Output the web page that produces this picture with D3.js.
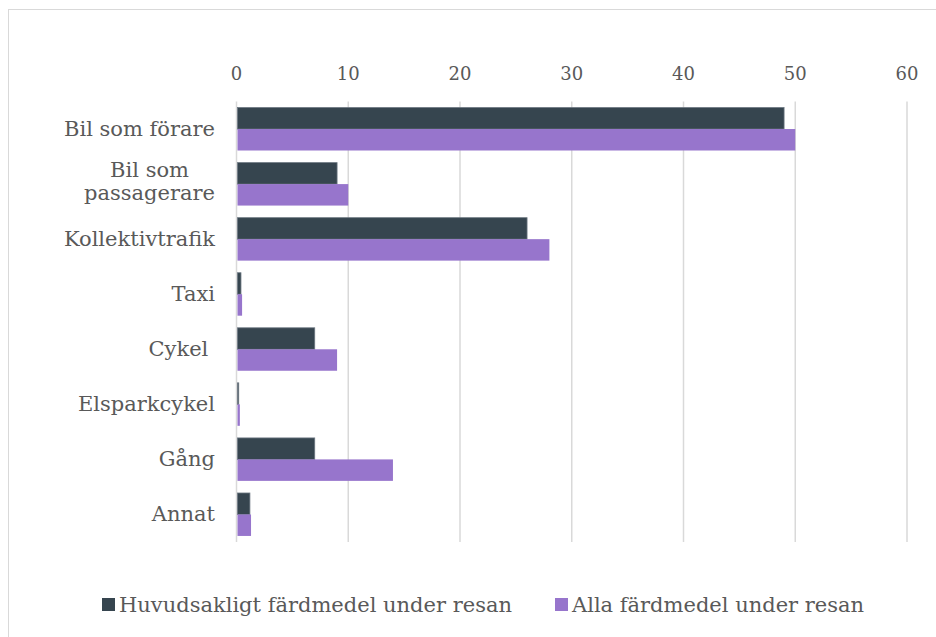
<!DOCTYPE html>
<html>
<head>
<meta charset="utf-8">
<script src="https://cdn.jsdelivr.net/npm/d3@7"></script>
<style>
  body { margin: 0; background: #fff; }
  text { font-family: Georgia, "DejaVu Serif", serif; fill: #595959; }
</style>
</head>
<body>
<div id="chart"></div>
<script>
const categories = [
  ["Bil som förare"],
  ["Bil som", "passagerare"],
  ["Kollektivtrafik"],
  ["Taxi"],
  ["Cykel "],
  ["Elsparkcykel"],
  ["Gång"],
  ["Annat"]
];
const seriesNames = ["Huvudsakligt färdmedel under resan", "Alla färdmedel under resan"];
const mainValues = [49, 9, 26, 0.4, 7, 0.2, 7, 1.2];
const allValues = [50, 10, 28, 0.5, 9, 0.3, 14, 1.3];
const ticks = [0, 10, 20, 30, 40, 50, 60];
const colors = ["#36454f", "#9775cc"];

const width = 936, height = 637;
const margin = { top: 101.5, right: 29, bottom: 95, left: 236.5 };

const svg = d3.select("#chart")
  .append("svg")
  .attr("width", width)
  .attr("height", height);

// outer frame
svg.append("rect")
  .attr("x", 8.5).attr("y", 9.5)
  .attr("width", width).attr("height", height)
  .attr("fill", "none")
  .attr("stroke", "#d9d9d9");

const x = d3.scaleLinear().domain([0, 60]).range([margin.left, width - margin.right]);
const y = d3.scaleBand()
  .domain(d3.range(categories.length))
  .range([margin.top, height - margin.bottom])
  .paddingInner(0.22)
  .paddingOuter(0.11);
const inner = d3.scaleBand().domain([0, 1]).range([0, y.bandwidth()]);

// gridlines
svg.append("g")
  .selectAll("line")
  .data(ticks)
  .join("line")
  .attr("x1", d => x(d)).attr("x2", d => x(d))
  .attr("y1", margin.top).attr("y2", height - margin.bottom)
  .attr("stroke", "#d9d9d9")
  .attr("stroke-width", 1.5);

// tick labels
svg.append("g")
  .selectAll("text")
  .data(ticks)
  .join("text")
  .attr("x", d => x(d))
  .attr("y", 80)
  .attr("text-anchor", "middle")
  .style("font-size", "18px")
  .text(d => d);

// bars
const series = [mainValues, allValues];
series.forEach((vals, s) => {
  svg.append("g")
    .selectAll("rect")
    .data(vals)
    .join("rect")
    .attr("x", x(0) + 1)
    .attr("y", (d, i) => y(i) + inner(s))
    .attr("width", d => x(d) - x(0) - 1)
    .attr("height", inner.bandwidth())
    .attr("fill", colors[s])
    .attr("stroke", s === 0 ? "#6b7680" : "none")
    .attr("stroke-width", 0.8);
});

// category labels
const labels = svg.append("g")
  .selectAll("text")
  .data(categories)
  .join("text")
  .attr("text-anchor", "middle")
  .attr("xml:space", "preserve")
  .style("font-size", "21px")
  .style("white-space", "pre");

labels.each(function (lines, i) {
  const t = d3.select(this);
  const cy = y(i) + y.bandwidth() / 2;
  const offsets = lines.length === 1 ? [7] : [-7, 16];
  lines.forEach((ln, k) => {
    t.append("tspan")
      .attr("y", cy + offsets[k])
      .text(ln);
  });
  // right edge of the block at x=215, lines centred within it
  const w = d3.max(t.selectAll("tspan").nodes(), n => n.getComputedTextLength());
  t.selectAll("tspan").attr("x", 215 - w / 2);
});

// legend
const legendX = [102, 555];
const legend = svg.append("g")
  .selectAll("g")
  .data(seriesNames)
  .join("g")
  .attr("transform", (d, i) => `translate(${legendX[i]}, 598)`);
legend.append("rect")
  .attr("width", 13).attr("height", 13)
  .attr("fill", (d, i) => colors[i]);
legend.append("text")
  .attr("x", 17)
  .attr("y", 14)
  .style("font-size", "21px")
  .text(d => d);
</script>
</body>
</html>
